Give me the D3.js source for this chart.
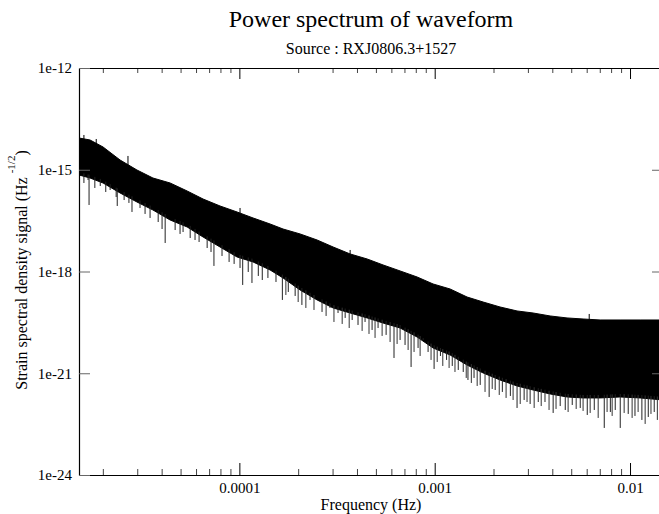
<!DOCTYPE html>
<html><head><meta charset="utf-8">
<script src="https://cdn.jsdelivr.net/npm/d3@7"></script>
<style>
body{margin:0;background:#fff}
svg{display:block}
text{font-family:"Liberation Serif","Times New Roman",serif;fill:#000}
</style>
</head><body>
<svg id="chart" width="659" height="514"></svg>
<script>
// ---- data ----
const titleText = "Power spectrum of waveform";
const subtitleText = "Source : RXJ0806.3+1527";
const xLabelText = "Frequency (Hz)";

// envelope of the dense spectrum band (frequency in Hz, strain in Hz^-1/2)
const envFreq = [1.51e-5, 1.72e-5, 2.005e-5, 2.45e-5, 2.99e-5, 3.61e-5, 4.42e-5, 5.40e-5, 6.52e-5, 7.96e-5,
  9.73e-5, 1.175e-4, 1.436e-4, 1.674e-4, 2.046e-4, 2.50e-4, 3.02e-4, 3.69e-4, 4.51e-4, 5.44e-4,
  6.65e-4, 8.13e-4, 9.81e-4, 1.199e-3, 1.465e-3, 1.77e-3, 2.16e-3, 2.64e-3, 3.19e-3, 3.90e-3,
  4.76e-3, 5.75e-3, 7.03e-3, 8.89e-3, 1.126e-2, 1.475e-2];
const upperEnv = [8.63e-15, 7.54e-15, 4.69e-15, 1.94e-15, 9.84e-16, 5.71e-16, 4.07e-16, 2.37e-16, 1.37e-16, 8.55e-17,
  5.69e-17, 3.79e-17, 2.52e-17, 1.79e-17, 1.28e-17, 8.49e-18, 5.28e-18, 3.29e-18, 2.34e-18, 1.56e-18,
  1.04e-18, 6.89e-19, 4.29e-19, 3.05e-19, 1.77e-19, 1.26e-19, 9.0e-20, 6.86e-20, 5.98e-20, 4.89e-20,
  4.27e-20, 3.98e-20, 3.72e-20, 3.72e-20, 3.72e-20, 3.72e-20];
const lowerEnv = [7.01e-16, 5.71e-16, 4.07e-16, 2.07e-16, 1.12e-16, 6.51e-17, 3.30e-17, 2.06e-17, 1.04e-17, 5.28e-18,
  2.68e-18, 1.91e-18, 1.11e-18, 6.44e-19, 2.85e-19, 1.45e-19, 8.41e-20, 5.98e-20, 4.27e-20, 3.03e-20,
  2.16e-20, 1.17e-20, 5.56e-21, 3.46e-21, 1.75e-21, 1.02e-21, 6.34e-22, 4.22e-22, 3.21e-22, 2.45e-22,
  2.00e-22, 1.87e-22, 1.87e-22, 2.00e-22, 1.87e-22, 1.63e-22];

// deep individual dips below the band
const dipFreq = [1.60e-5, 1.68e-5, 1.70e-5, 1.82e-5, 1.94e-5, 2.07e-5, 2.18e-5, 2.34e-5, 2.37e-5, 2.57e-5, 2.72e-5,
  2.82e-5, 3.10e-5, 3.29e-5, 3.49e-5, 3.84e-5, 4.02e-5, 4.17e-5, 4.69e-5, 4.97e-5, 5.15e-5,
  5.60e-5, 5.93e-5, 6.22e-5, 6.84e-5, 7.16e-5, 7.41e-5, 8.15e-5, 8.86e-5, 9.40e-5, 1.008e-4,
  1.04e-4, 1.11e-4, 1.16e-4, 1.25e-4, 1.31e-4, 1.40e-4, 1.54e-4, 1.66e-4, 1.78e-4, 1.93e-4,
  2.09e-4, 2.30e-4, 2.50e-4, 2.65e-4, 2.91e-4, 3.20e-4, 3.48e-4, 3.78e-4, 4.05e-4, 4.40e-4,
  4.78e-4, 5.13e-4, 5.64e-4, 6.19e-4, 6.65e-4, 7.05e-4, 7.57e-4, 8.22e-4, 8.73e-4, 9.25e-4,
  9.93e-4, 1.07e-3, 1.15e-3, 1.23e-3, 1.32e-3, 1.40e-3, 1.48e-3, 1.59e-3, 1.71e-3, 1.90e-3,
  2.04e-3, 2.22e-3, 2.44e-3, 2.64e-3, 2.87e-3, 3.08e-3, 3.39e-3, 3.67e-3, 4.04e-3, 4.39e-3,
  4.66e-3, 5.06e-3, 5.56e-3, 6.04e-3, 6.56e-3, 7.38e-3, 7.93e-3, 8.40e-3, 8.91e-3, 9.79e-3,
  1.06e-2, 1.15e-2, 1.24e-2, 1.33e-2];
const dipValue = [4.07e-16, 4.99e-16, 9.14e-17, 2.90e-16, 3.32e-16, 2.21e-16, 2.53e-16, 1.57e-16, 8.55e-17, 1.28e-16, 1.05e-16,
  5.69e-17, 7.46e-17, 4.97e-17, 3.79e-17, 2.88e-17, 1.79e-17, 6.93e-18, 1.67e-17, 1.28e-17, 1.46e-17,
  9.73e-18, 8.49e-18, 7.41e-18, 4.93e-18, 3.76e-18, 1.46e-18, 2.87e-18, 1.91e-18, 1.67e-18, 1.27e-18,
  4.01e-19, 9.68e-19, 4.59e-19, 7.38e-19, 5.62e-19, 6.44e-19, 4.91e-19, 1.45e-19, 2.49e-19, 1.90e-19,
  1.03e-19, 1.45e-19, 1.77e-19, 6.41e-20, 8.41e-20, 5.98e-20, 4.27e-20, 3.72e-20, 2.65e-20, 3.25e-20,
  1.89e-20, 2.16e-20, 1.35e-20, 2.82e-21, 9.57e-21, 6.82e-21, 1.53e-21, 5.56e-21, 9.57e-21, 4.24e-21,
  1.34e-21, 3.23e-21, 2.47e-21, 1.64e-21, 1.25e-21, 1.09e-21, 6.34e-22, 7.26e-22, 4.52e-22, 2.00e-22,
  3.21e-22, 2.81e-22, 2.14e-22, 9.46e-23, 1.63e-22, 1.24e-22, 1.42e-22, 1.42e-22, 6.75e-23, 1.08e-22,
  8.26e-23, 1.16e-22, 9.46e-23, 5.89e-23, 8.26e-23, 2.44e-23, 7.21e-23, 8.26e-23, 2.44e-23, 6.31e-23,
  5.51e-23, 4.20e-23, 5.14e-23, 7.21e-23];

// shorter dips forming the ragged lower fringe
const fringeFreq = [1.73e-4, 2.00e-4, 2.19e-4, 2.41e-4, 2.78e-4, 3.05e-4, 3.36e-4, 3.65e-4, 4.25e-4, 4.61e-4,
  4.95e-4, 5.38e-4, 5.91e-4, 6.42e-4, 7.31e-4, 7.84e-4, 8.42e-4, 9.58e-4, 1.03e-3, 1.10e-3,
  1.185e-3, 1.27e-3, 1.45e-3, 1.54e-3, 1.65e-3, 1.81e-3, 1.97e-3, 2.14e-3, 2.32e-3, 2.52e-3,
  2.74e-3, 2.97e-3, 3.23e-3, 3.51e-3, 3.85e-3, 4.18e-3, 4.82e-3, 5.30e-3, 5.75e-3, 6.25e-3,
  6.87e-3, 7.63e-3, 8.10e-3, 9.33e-3, 1.025e-2, 1.10e-2, 1.195e-2, 1.28e-2, 1.38e-2];
const fringeValue = [2.03e-19, 1.26e-19, 8.41e-20, 7.34e-20, 4.89e-20, 3.25e-20, 2.84e-20, 2.16e-20, 1.77e-20, 1.44e-20,
  1.10e-20, 1.26e-20, 8.36e-21, 7.30e-21, 4.85e-21, 4.24e-21, 3.23e-21, 2.47e-21, 2.15e-21, 1.64e-21,
  1.43e-21, 1.09e-21, 7.26e-22, 5.17e-22, 4.22e-22, 2.81e-22, 3.44e-22, 2.29e-22, 1.87e-22, 1.63e-22,
  1.24e-22, 1.42e-22, 9.46e-23, 1.08e-22, 8.26e-23, 8.85e-23, 7.21e-23, 8.85e-23, 7.73e-23, 6.75e-23,
  4.81e-23, 7.21e-23, 5.51e-23, 6.75e-23, 4.81e-23, 7.21e-23, 3.20e-23, 6.31e-23, 4.20e-23];

// small upward peaks above the band
const peakFreq = [1.60e-5, 1.85e-5, 2.69e-5, 1.008e-4, 3.69e-4, 6.18e-3];
const peakValue = [1.06e-14, 8.07e-15, 2.55e-15, 7.46e-17, 4.31e-18, 5.60e-20];

const xMajorTicks = [1e-4, 1e-3, 1e-2];
const xTickLabels = ["0.0001", "0.001", "0.01"];
const yMajorTicks = [1e-12, 1e-15, 1e-18, 1e-21, 1e-24];
const yTickLabels = ["1e-12", "1e-15", "1e-18", "1e-21", "1e-24"];

// ---- drawing ----
const svg = d3.select("#chart");
const L = 79, T = 68, R = 663, B = 475;
const x = d3.scaleLog().domain([1.51e-5, 1.475e-2]).range([L, R]);
const y = d3.scaleLog().domain([1e-24, 1e-12]).range([B, T]);

svg.append("defs").append("clipPath").attr("id", "plotclip")
  .append("rect").attr("x", L).attr("y", T).attr("width", R - L).attr("height", B - T);

const plot = svg.append("g").attr("clip-path", "url(#plotclip)");

// log-log interpolation of an envelope at frequency f (matches the straight segments of the band)
function envAt(env, f) {
  const lf = Math.log10(f);
  let i = d3.bisectRight(envFreq, f) - 1;
  i = Math.max(0, Math.min(envFreq.length - 2, i));
  const a = Math.log10(envFreq[i]), b = Math.log10(envFreq[i + 1]);
  const t = (lf - a) / (b - a);
  return Math.pow(10, Math.log10(env[i]) * (1 - t) + Math.log10(env[i + 1]) * t);
}

const band = d3.area()
  .x((d, i) => x(envFreq[i]))
  .y0((d, i) => y(lowerEnv[i]))
  .y1((d, i) => y(upperEnv[i]));
plot.append("path").datum(envFreq).attr("d", band)
  .attr("fill", "#000").attr("stroke", "#000").attr("stroke-width", 1);

plot.selectAll("line.fringe").data(fringeFreq).join("line").attr("class", "fringe")
  .attr("x1", d => x(d)).attr("x2", d => x(d))
  .attr("y1", (d, i) => y(fringeValue[i]))
  .attr("y2", d => y(envAt(lowerEnv, d)) - 3)
  .attr("stroke", "#333").attr("stroke-width", 1);

plot.selectAll("line.dip").data(dipFreq).join("line").attr("class", "dip")
  .attr("x1", d => x(d)).attr("x2", d => x(d))
  .attr("y1", (d, i) => y(dipValue[i]))
  .attr("y2", d => y(envAt(lowerEnv, d)) - 3)
  .attr("stroke", "#222").attr("stroke-width", 1);

plot.selectAll("line.peak").data(peakFreq).join("line").attr("class", "peak")
  .attr("x1", d => x(d)).attr("x2", d => x(d))
  .attr("y1", (d, i) => y(peakValue[i]))
  .attr("y2", d => y(envAt(upperEnv, d)) + 3)
  .attr("stroke", "#000").attr("stroke-width", 1);

// axes
const minorX = x.ticks().filter(v => Math.abs(Math.log10(v) - Math.round(Math.log10(v))) > 1e-6);

function styleAxis(g, color) {
  g.attr("font-family", null).attr("font-size", null);
  g.selectAll(".tick line").attr("stroke", color);
  g.select(".domain").attr("stroke", "#000").attr("stroke-width", 1.2);
}

// bottom
const gbMinor = svg.append("g").attr("transform", `translate(0,${B})`)
  .call(d3.axisBottom(x).tickValues(minorX).tickSize(-6).tickSizeOuter(0).tickFormat(""));
styleAxis(gbMinor, "#444");
gbMinor.select(".domain").remove();
const gb = svg.append("g").attr("transform", `translate(0,${B})`)
  .call(d3.axisBottom(x).tickValues(xMajorTicks).tickSize(-12).tickSizeOuter(0).tickPadding(7)
    .tickFormat((d, i) => xTickLabels[i]));
styleAxis(gb, "#000");
gb.selectAll("text").style("font-size", "15px");

// top
const gtMinor = svg.append("g").attr("transform", `translate(0,${T})`)
  .call(d3.axisTop(x).tickValues(minorX).tickSize(-5).tickSizeOuter(0).tickFormat(""));
styleAxis(gtMinor, "#444");
gtMinor.select(".domain").remove();
const gt = svg.append("g").attr("transform", `translate(0,${T})`)
  .call(d3.axisTop(x).tickValues(xMajorTicks).tickSize(-11).tickSizeOuter(0).tickFormat(""));
styleAxis(gt, "#000");

// left
const gl = svg.append("g").attr("transform", `translate(${L},0)`)
  .call(d3.axisLeft(y).tickValues(yMajorTicks).tickSize(-11).tickSizeOuter(0).tickPadding(7)
    .tickFormat((d, i) => yTickLabels[i]));
styleAxis(gl, "#666");
gl.selectAll("text").style("font-size", "15px");

// right
const gr = svg.append("g").attr("transform", `translate(${R},0)`)
  .call(d3.axisRight(y).tickValues(yMajorTicks.slice(1, -1)).tickSize(-11).tickSizeOuter(0).tickFormat(""));
styleAxis(gr, "#666");

// titles
const cx = (L + R) / 2;
svg.append("text").attr("x", cx).attr("y", 27).attr("text-anchor", "middle")
  .style("font-size", "24px").text(titleText);
svg.append("text").attr("x", cx).attr("y", 54).attr("text-anchor", "middle")
  .style("font-size", "16px").text(subtitleText);
svg.append("text").attr("x", cx).attr("y", 510).attr("text-anchor", "middle")
  .style("font-size", "16px").text(xLabelText);

const yl = svg.append("text").attr("transform", "translate(27,270) rotate(-90)")
  .attr("text-anchor", "middle").style("font-size", "16px");
yl.append("tspan").text("Strain spectral density signal (Hz ");
yl.append("tspan").attr("dy", -12).style("font-size", "11px").text("-1/2");
yl.append("tspan").attr("dy", 12).text(")");
</script>
</body></html>
